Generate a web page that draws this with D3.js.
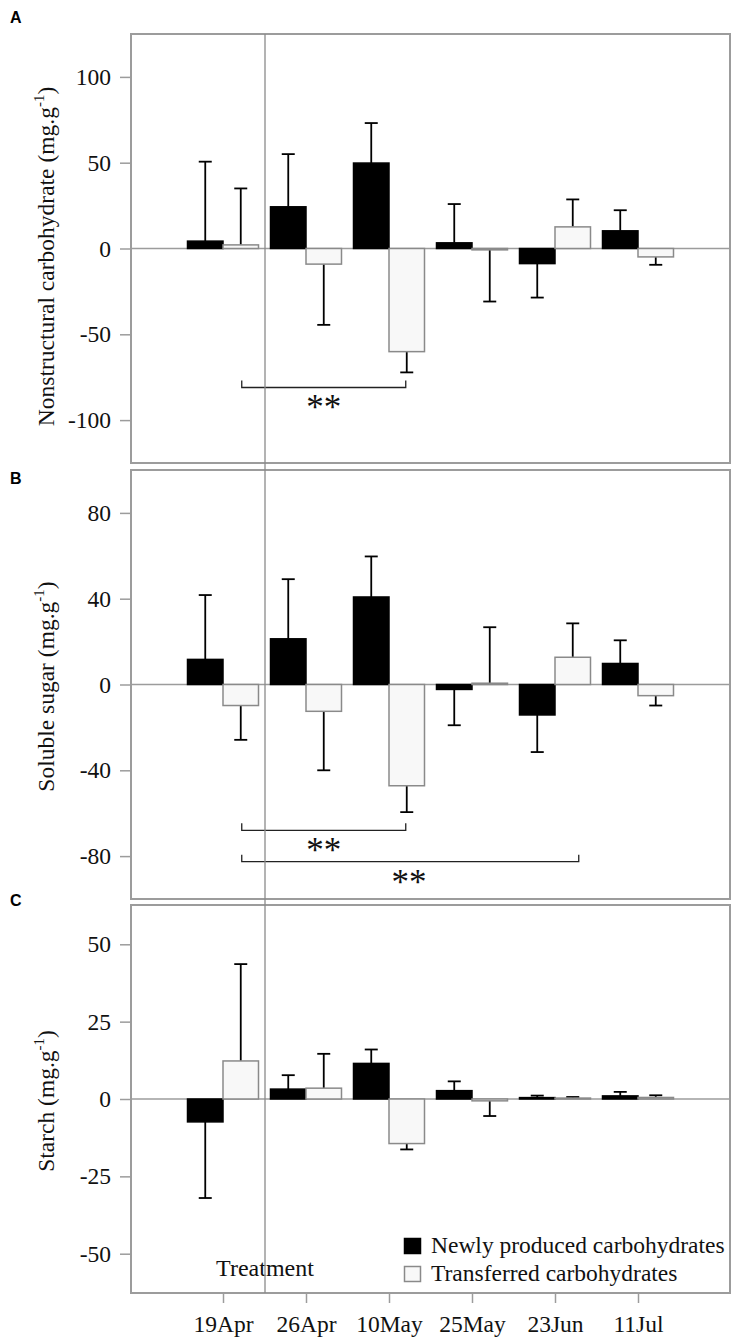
<!DOCTYPE html>
<html>
<head>
<meta charset="utf-8">
<script src="https://cdn.jsdelivr.net/npm/d3@7"></script>
<style>
  html, body { margin: 0; padding: 0; background: #fff; }
  svg { display: block; }
</style>
</head>
<body>
<svg id="chart" width="733" height="1339"></svg>
<script>
// ---------------- DATA ----------------
const categories = ["19Apr", "26Apr", "10May", "25May", "23Jun", "11Jul"];
const seriesNames = ["Newly produced carbohydrates", "Transferred carbohydrates"];

// Panel A: Nonstructural carbohydrate
const nscNew      = [4.3, 24.3, 49.8, 3.3, -8.8, 10.3];
const nscNewErr   = [46.3, 30.7, 23.3, 22.6, 19.8, 12.0];
const nscTrans    = [2.1, -9.1, -60.1, -0.8, 12.6, -4.9];
const nscTransErr = [32.9, 35.4, 12.1, 30.1, 16.0, 4.6];
const nscTicks    = [-100, -50, 0, 50, 100];

// Panel B: Soluble sugar
const sugarNew      = [11.7, 21.3, 40.8, -2.3, -14.2, 9.8];
const sugarNewErr   = [30.0, 27.8, 18.9, 16.7, 17.3, 10.8];
const sugarTrans    = [-9.8, -12.5, -47.2, 0.6, 12.7, -5.2];
const sugarTransErr = [16.0, 27.5, 12.3, 26.1, 15.8, 4.6];
const sugarTicks    = [-80, -40, 0, 40, 80];

// Panel C: Starch
const starchNew      = [-7.4, 3.2, 11.5, 2.7, 0.45, 1.0];
const starchNewErr   = [24.6, 4.5, 4.5, 3.0, 0.65, 1.3];
const starchTrans    = [12.3, 3.5, -14.4, -0.6, 0.3, 0.5];
const starchTransErr = [31.3, 11.1, 1.9, 4.9, 0.35, 0.7];
const starchTicks    = [-50, -25, 0, 25, 50];

// significance brackets (from/to category of transferred bars, level in data units)
const nscBrackets   = [{from: "19Apr", to: "10May", level: -81, label: "**"}];
const sugarBrackets = [{from: "19Apr", to: "10May", level: -68, label: "**"},
                       {from: "19Apr", to: "23Jun", level: -82.6, label: "**"}];
const starchBrackets = [];

// ---------------- LAYOUT ----------------
const svg = d3.select("#chart");
const serif = "'Liberation Serif', 'Times New Roman', serif";
const sans = "'Liberation Sans', Arial, sans-serif";
const frameColor = "#9c9c9c";
const fs = 23.5;
const left = 131, right = 730;
const treatmentX = 265;

const panels = [
  {label: "A", title: "Nonstructural carbohydrate (mg.g", top: 34, bottom: 463, domain: [-125, 125],
   ticks: nscTicks, s1: nscNew, e1: nscNewErr, s2: nscTrans, e2: nscTransErr, brackets: nscBrackets, labelY: 23},
  {label: "B", title: "Soluble sugar (mg.g", top: 470, bottom: 899, domain: [-100, 100],
   ticks: sugarTicks, s1: sugarNew, e1: sugarNewErr, s2: sugarTrans, e2: sugarTransErr, brackets: sugarBrackets, labelY: 484},
  {label: "C", title: "Starch (mg.g", top: 905, bottom: 1293, domain: [-62.7, 62.7],
   ticks: starchTicks, s1: starchNew, e1: starchNewErr, s2: starchTrans, e2: starchTransErr, brackets: starchBrackets, labelY: 906}
];

const x = d3.scalePoint().domain(categories).range([223, 638]);
const xs = d3.scaleBand().domain(seriesNames).range([-35.5, 35.5]).padding(0);
const capHalf = 6.5;

panels.forEach(p => {
  const y = d3.scaleLinear().domain(p.domain).range([p.bottom, p.top]);
  const g = svg.append("g");

  // frame
  g.append("rect").attr("x", left).attr("y", p.top)
    .attr("width", right - left).attr("height", p.bottom - p.top)
    .attr("fill", "none").attr("stroke", frameColor).attr("stroke-width", 2);

  // y axis
  const yAxis = d3.axisLeft(y).tickValues(p.ticks).tickSize(11).tickPadding(9).tickFormat(d => String(d));
  const ay = g.append("g").attr("transform", `translate(${left},0)`).call(yAxis);
  ay.select(".domain").remove();
  ay.selectAll(".tick line").attr("stroke", frameColor).attr("stroke-width", 1.5);
  ay.selectAll(".tick text").attr("font-family", serif).attr("font-size", fs).attr("fill", "#111");

  // y title
  const yc = (p.top + p.bottom) / 2 + (p.label === "A" ? 8 : 2);
  const t = g.append("text").attr("transform", `translate(54,${yc}) rotate(-90)`)
    .attr("text-anchor", "middle").attr("font-family", serif).attr("font-size", fs).attr("fill", "#111");
  t.append("tspan").text(p.title);
  t.append("tspan").attr("dy", -10).attr("font-size", 15).text("-1");
  t.append("tspan").attr("dy", 10).text(")");

  // panel letter
  g.append("text").attr("x", 10).attr("y", p.labelY).attr("font-family", sans).attr("font-weight", "bold")
    .attr("font-size", 16).text(p.label);

  // zero line
  g.append("line").attr("x1", left).attr("x2", right).attr("y1", y(0)).attr("y2", y(0))
    .attr("stroke", frameColor).attr("stroke-width", 1.5);

  const rows = [];
  categories.forEach((c, i) => {
    rows.push({cat: c, s: seriesNames[0], v: p.s1[i], e: p.e1[i]});
    rows.push({cat: c, s: seriesNames[1], v: p.s2[i], e: p.e2[i]});
  });

  // error bars
  const eg = g.append("g");
  rows.forEach(r => {
    const cx = x(r.cat) + xs(r.s) + xs.bandwidth() / 2;
    const end = r.v + (r.v >= 0 ? r.e : -r.e);
    eg.append("line").attr("x1", cx).attr("x2", cx).attr("y1", y(r.v)).attr("y2", y(end))
      .attr("stroke", "#000").attr("stroke-width", 1.8);
    eg.append("line").attr("x1", cx - capHalf).attr("x2", cx + capHalf).attr("y1", y(end)).attr("y2", y(end))
      .attr("stroke", "#000").attr("stroke-width", 1.8);
  });

  // bars
  g.append("g").selectAll("rect").data(rows).join("rect")
    .attr("x", d => x(d.cat) + xs(d.s))
    .attr("width", xs.bandwidth())
    .attr("y", d => Math.min(y(d.v), y(0)))
    .attr("height", d => Math.max(Math.abs(y(d.v) - y(0)), 0.8))
    .attr("fill", d => d.s === seriesNames[0] ? "#000" : "#f8f8f8")
    .attr("stroke", d => d.s === seriesNames[0] ? "#000" : "#8a8a8a")
    .attr("stroke-width", 1.5);

  // brackets
  p.brackets.forEach(b => {
    const x1 = x(b.from) + xs(seriesNames[1]) + xs.bandwidth() / 2 + 1;
    let x2 = x(b.to) + xs(seriesNames[1]) + xs.bandwidth() / 2 - 1;
    if (b.to === "23Jun") x2 += 7;
    const yl = y(b.level);
    g.append("path").attr("d", `M${x1},${yl - 7}L${x1},${yl}L${x2},${yl}L${x2},${yl - 7}`)
      .attr("fill", "none").attr("stroke", "#222").attr("stroke-width", 1.3);
    const tx = b.to === "23Jun" ? 409 : (x1 + x2) / 2;
    g.append("text").attr("x", tx).attr("y", yl + 32).attr("text-anchor", "middle")
      .attr("font-family", serif).attr("font-size", 35).attr("fill", "#111").text(b.label);
  });

  // x axis on last panel
  if (p.label === "C") {
    const xAxis = d3.axisBottom(x).tickSize(10).tickPadding(12);
    const ax = g.append("g").attr("transform", `translate(0,${p.bottom})`).call(xAxis);
    ax.select(".domain").remove();
    ax.selectAll(".tick line").attr("stroke", frameColor).attr("stroke-width", 1.5);
    ax.selectAll(".tick text").attr("font-family", serif).attr("font-size", fs).attr("fill", "#111");

    // legend
    const lg = g.append("g");
    seriesNames.forEach((s, i) => {
      lg.append("rect").attr("x", 404.5).attr("y", 1238.5 + i * 28).attr("width", 16).attr("height", 15)
        .attr("fill", i === 0 ? "#000" : "#f8f8f8").attr("stroke", i === 0 ? "#000" : "#8a8a8a").attr("stroke-width", 1.5);
      lg.append("text").attr("x", 431).attr("y", 1253 + i * 27.5)
        .attr("font-family", serif).attr("font-size", fs).attr("fill", "#111").text(s);
    });

    g.append("text").attr("x", treatmentX).attr("y", 1276).attr("text-anchor", "middle")
      .attr("font-family", serif).attr("font-size", 24).attr("fill", "#111").text("Treatment");
  }
});

// treatment line spanning all panels
svg.append("line").attr("x1", treatmentX).attr("x2", treatmentX).attr("y1", 34).attr("y2", 1293)
  .attr("stroke", "#8a8a8a").attr("stroke-width", 1.3);
</script>
</body>
</html>
